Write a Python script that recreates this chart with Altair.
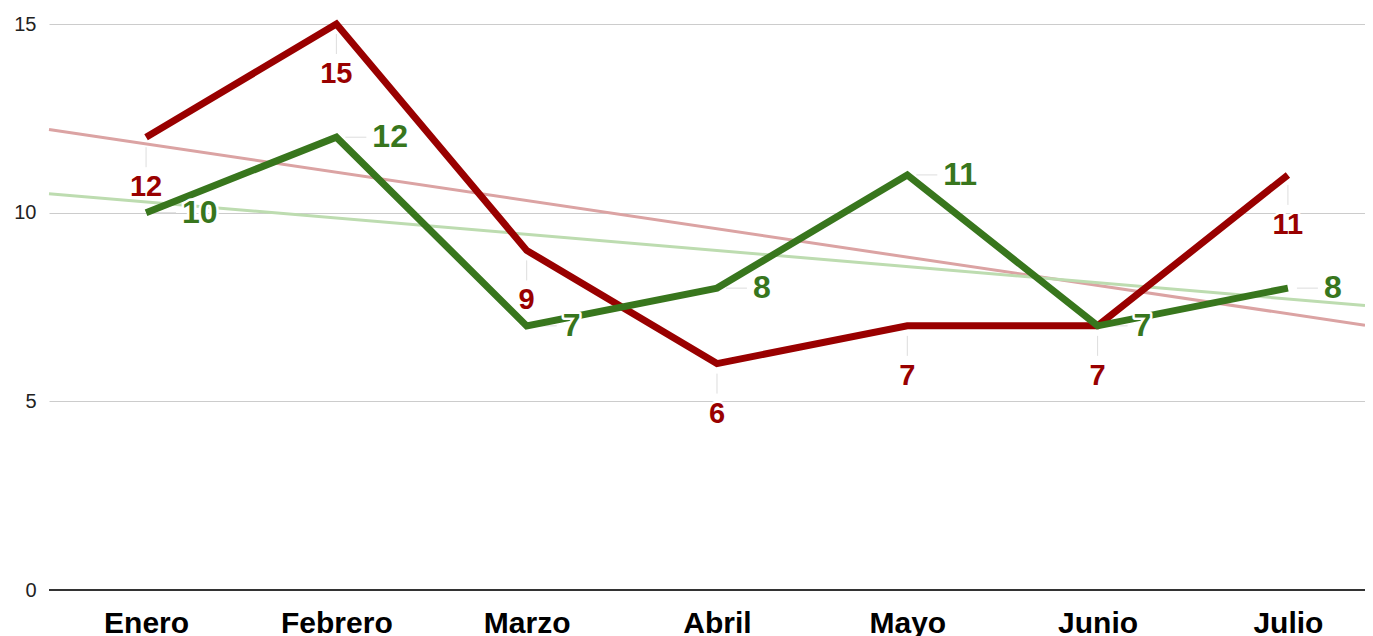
import altair as alt
import pandas as pd

meses = ["Enero", "Febrero", "Marzo", "Abril", "Mayo", "Junio", "Julio"]
serie_roja = [12, 15, 9, 6, 7, 7, 11]
serie_verde = [10, 12, 7, 8, 11, 7, 8]
y_ticks = [0, 5, 10, 15]

ROJO = "#990000"
VERDE = "#38761d"
ROJO_T = "#dba3a3"
VERDE_T = "#bddcb0"

rows = []
for i, m in enumerate(meses):
    rows.append({"mes": m, "idx": i, "serie": "A", "valor": serie_roja[i]})
    rows.append({"mes": m, "idx": i, "serie": "B", "valor": serie_verde[i]})
df = pd.DataFrame(rows)

XMIN, XMAX = -0.51, 6.405
label_expr = "[" + ",".join(f"'{m}'" for m in meses) + "][datum.value]"

x = alt.X(
    "idx:Q",
    scale=alt.Scale(domain=[XMIN, XMAX], nice=False, zero=False),
    axis=alt.Axis(
        values=list(range(len(meses))), labelExpr=label_expr, title=None,
        grid=False, ticks=False, tickSize=0, domain=False,
        labelFontSize=30, labelFontWeight="bold", labelColor="#000000",
        labelFont="Liberation Sans", labelPadding=18,
    ),
)
y = alt.Y(
    "valor:Q",
    scale=alt.Scale(domain=[0, 15], nice=False),
    axis=alt.Axis(
        values=y_ticks, title=None, grid=True, gridColor="#cccccc", gridWidth=1,
        ticks=False, tickSize=0, domain=False, labelFontSize=20,
        labelColor="#222222", labelPadding=13, labelFont="Liberation Sans",
    ),
)
color_scale = alt.Scale(domain=["A", "B", "A_t", "B_t"], range=[ROJO, VERDE, ROJO_T, VERDE_T])

base = alt.Chart(df)

trend = (
    base.transform_regression("idx", "valor", groupby=["serie"], extent=[XMIN, XMAX])
    .transform_calculate(grp="datum.serie + '_t'")
    .mark_line(strokeWidth=3)
    .encode(x=x, y=y, color=alt.Color("grp:N", scale=color_scale, legend=None))
)

zero_rule = (
    alt.Chart(pd.DataFrame({"valor": [0]}))
    .mark_rule(color="#333333", strokeWidth=2)
    .encode(y=y)
)

rojo = base.transform_filter("datum.serie == 'A'")
verde = base.transform_filter("datum.serie == 'B'")

lead_rojo = rojo.mark_rule(color="#dddddd", strokeWidth=1, yOffset=10, y2Offset=30).encode(
    x=x, y=y, y2=alt.Y2("valor:Q")
)
lead_verde = verde.mark_rule(color="#dddddd", strokeWidth=1, xOffset=9, x2Offset=30).encode(
    x=x, x2=alt.X2("idx:Q"), y=y
)

line_rojo = rojo.mark_line(strokeWidth=7, strokeCap="butt").encode(
    x=x, y=y, color=alt.Color("serie:N", scale=color_scale, legend=None)
)
line_verde = verde.mark_line(strokeWidth=7, strokeCap="butt").encode(
    x=x, y=y, color=alt.Color("serie:N", scale=color_scale, legend=None)
)

txt_r = dict(dy=50, fontSize=29, fontWeight="bold", font="Liberation Sans",
             baseline="middle", align="center")
txt_v = dict(dx=36, fontSize=32, fontWeight="bold", font="Liberation Sans",
             baseline="middle", align="left")

halo_rojo = rojo.mark_text(**txt_r, color="white", stroke="white", strokeWidth=5,
                           strokeJoin="round").encode(x=x, y=y, text="valor:Q")
lab_rojo = rojo.mark_text(**txt_r, color=ROJO).encode(x=x, y=y, text="valor:Q")
halo_verde = verde.mark_text(**txt_v, color="white", stroke="white", strokeWidth=5,
                             strokeJoin="round").encode(x=x, y=y, text="valor:Q")
lab_verde = verde.mark_text(**txt_v, color=VERDE).encode(x=x, y=y, text="valor:Q")

chart = (
    alt.layer(trend, zero_rule, lead_rojo, lead_verde, line_rojo, line_verde,
              halo_rojo, halo_verde, lab_rojo, lab_verde)
    .properties(
        width=1316, height=566,
        autosize=alt.AutoSizeParams(type="none"),
        padding={"left": 41, "top": 16, "right": 0, "bottom": 50},
        background="white",
    )
    .configure_view(stroke=None)
)

chart.save("out.html", embed_options={"renderer": "svg", "actions": False})
